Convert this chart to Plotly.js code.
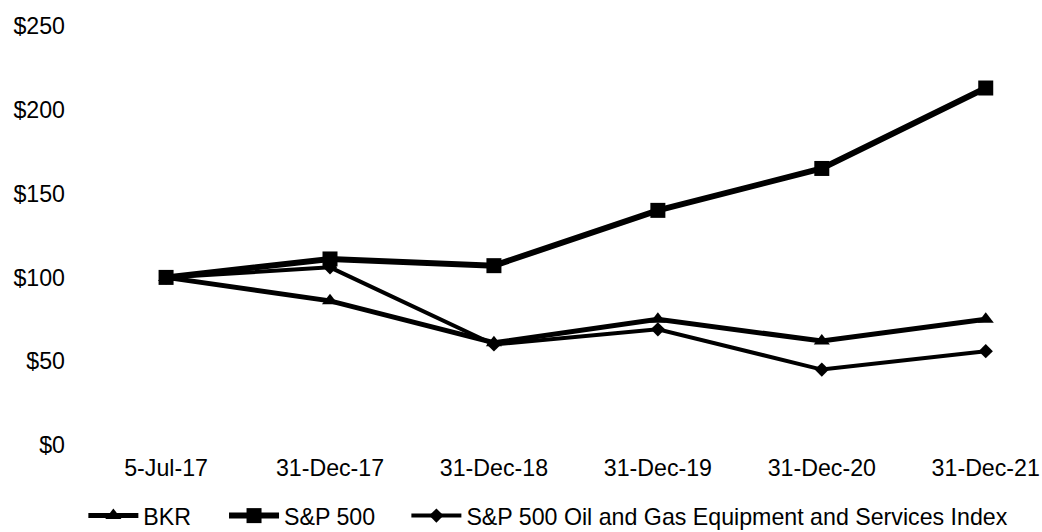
<!DOCTYPE html>
<html>
<head>
<meta charset="utf-8">
<script src="https://cdn.plot.ly/plotly-3.0.1.min.js"></script>
<style>html,body{margin:0;padding:0;background:#fff;}</style>
</head>
<body>
<div id="chart" style="width:1042px;height:532px;"></div>
<script>
var categories = ["5-Jul-17", "31-Dec-17", "31-Dec-18", "31-Dec-19", "31-Dec-20", "31-Dec-21"];
var bkr = [100, 86, 61, 75, 62, 75];
var sp500 = [100, 111, 107, 140, 165, 213];
var oilGasIndex = [100, 106, 60, 69, 45, 56];
var yTickVals = [0, 50, 100, 150, 200, 250];
var yTickText = ["$0", "$50", "$100", "$150", "$200", "$250"];

var FONT = "Liberation Sans, Arial, sans-serif";
var FS = 23.2;

var traces = [
  {
    x: categories, y: bkr, name: "BKR", type: "scatter", mode: "lines+markers",
    line: {color: "#000", width: 5},
    marker: {symbol: "triangle-up", size: 14, color: "#000"},
    legend: "legend"
  },
  {
    x: categories, y: sp500, name: "S&P 500", type: "scatter", mode: "lines+markers",
    line: {color: "#000", width: 6},
    marker: {symbol: "square", size: 15, color: "#000"},
    legend: "legend2"
  },
  {
    x: categories, y: oilGasIndex, name: "S&P 500 Oil and Gas Equipment and Services Index", type: "scatter", mode: "lines+markers",
    line: {color: "#000", width: 4},
    marker: {symbol: "diamond", size: 11, color: "#000"},
    legend: "legend3"
  }
];

function leg(x) {
  return {
    orientation: "h", xref: "container", yref: "container", x: x, xanchor: "left",
    y: 0.03, yanchor: "middle", font: {family: FONT, size: FS, color: "#000"},
    bgcolor: "rgba(0,0,0,0)", itemwidth: 50
  };
}

var layout = {
  width: 1042, height: 532,
  margin: {l: 70, r: 12, t: 26, b: 87},
  paper_bgcolor: "#fff", plot_bgcolor: "#fff",
  font: {family: FONT, size: FS, color: "#000"},
  xaxis: {
    type: "category", range: [-0.586, 5.27], showgrid: false, zeroline: false,
    showline: false, ticks: "", ticklabelstandoff: 7,
    tickfont: {family: FONT, size: FS, color: "#000"}
  },
  yaxis: {
    range: [0, 250], tickvals: yTickVals, ticktext: yTickText, showgrid: false,
    zeroline: false, showline: false, ticks: "", ticklabelstandoff: 4,
    tickfont: {family: FONT, size: FS, color: "#000"}
  },
  showlegend: true,
  legend: leg(0.08),
  legend2: leg(0.215),
  legend3: leg(0.39)
};

Plotly.newPlot("chart", traces, layout, {displayModeBar: false, staticPlot: true});
</script>
</body>
</html>
